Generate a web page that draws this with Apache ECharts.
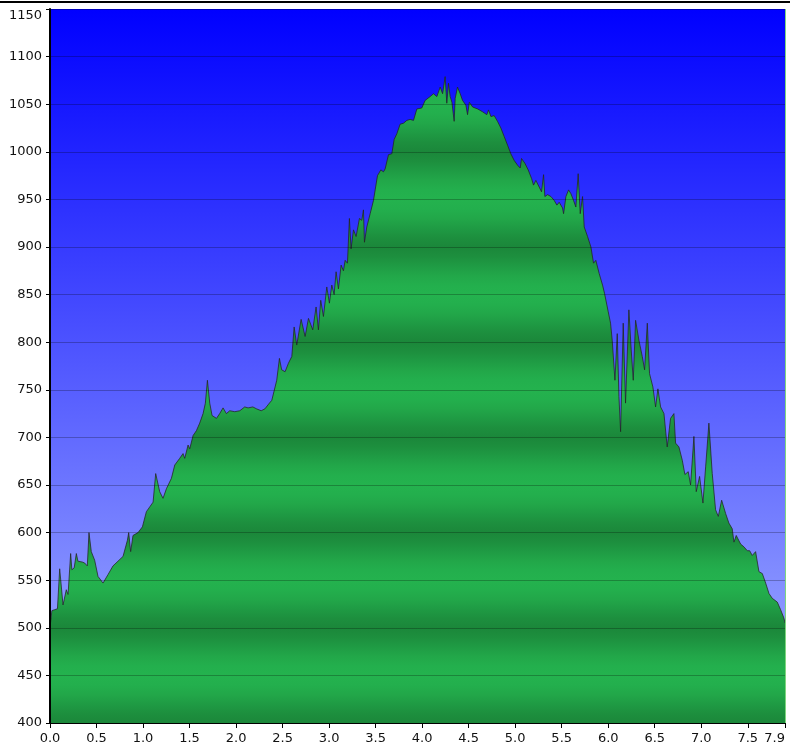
<!DOCTYPE html>
<html>
<head>
<meta charset="utf-8">
<script src="https://cdn.jsdelivr.net/npm/echarts@6/dist/echarts.min.js"></script>
<style>html,body{margin:0;padding:0;background:#fff;}#c{width:790px;height:750px;}</style>
</head>
<body>
<div id="c"></div>
<script>
var dist = [0.00,0.02,0.05,0.08,0.104,0.14,0.175,0.194,0.222,0.235,0.26,0.283,0.30,0.319,0.35,0.373,0.401,0.419,0.444,0.48,0.516,0.57,0.624,0.677,0.731,0.785,0.832,0.846,0.867,0.892,0.946,0.993,1.036,1.072,1.108,1.136,1.179,1.215,1.251,1.305,1.341,1.394,1.43,1.448,1.484,1.502,1.538,1.573,1.609,1.645,1.67,1.692,1.717,1.742,1.789,1.824,1.86,1.896,1.932,1.986,2.04,2.093,2.129,2.18,2.22,2.27,2.31,2.35,2.384,2.437,2.466,2.49,2.527,2.563,2.599,2.624,2.652,2.699,2.742,2.778,2.824,2.86,2.885,2.91,2.939,2.975,3.003,3.029,3.054,3.075,3.1,3.129,3.154,3.172,3.197,3.218,3.236,3.262,3.29,3.326,3.351,3.369,3.38,3.405,3.441,3.477,3.495,3.52,3.556,3.584,3.602,3.638,3.674,3.699,3.728,3.763,3.799,3.835,3.871,3.907,3.943,3.996,4.032,4.086,4.122,4.158,4.194,4.22,4.247,4.265,4.283,4.301,4.32,4.344,4.355,4.38,4.409,4.434,4.47,4.488,4.507,4.543,4.597,4.65,4.695,4.713,4.739,4.774,4.81,4.846,4.882,4.918,4.953,4.989,5.025,5.054,5.068,5.104,5.14,5.176,5.197,5.222,5.258,5.283,5.305,5.319,5.348,5.384,5.419,5.448,5.473,5.509,5.52,5.545,5.574,5.599,5.627,5.652,5.677,5.699,5.724,5.742,5.778,5.814,5.842,5.867,5.903,5.939,5.961,6.0,6.025,6.043,6.072,6.097,6.115,6.133,6.161,6.186,6.222,6.247,6.269,6.294,6.33,6.366,6.391,6.42,6.444,6.48,6.509,6.534,6.563,6.599,6.634,6.67,6.706,6.724,6.76,6.796,6.824,6.86,6.885,6.921,6.946,6.982,7.018,7.047,7.082,7.118,7.154,7.183,7.219,7.262,7.297,7.333,7.351,7.376,7.423,7.459,7.495,7.52,7.548,7.584,7.62,7.656,7.692,7.728,7.763,7.817,7.853,7.889,7.9];
var elev = [500,518,519,520,562,524,540,535,578,561,563,578,570,568,569,568,565,600,580,571,554,547,556,565,570,575,592,600,580,597,600,606,622,627,632,662,643,636,646,657,671,678,683,678,692,688,702,707,715,725,736,760,736,723,720,725,731,725,728,727,728,732,731,732,730,728,730,735,739,760,783,771,769,778,785,816,797,824,806,825,813,837,813,844,827,858,841,860,850,874,856,881,875,886,883,930,898,918,911,930,928,939,905,921,935,949,960,975,981,979,982,997,998,1013,1019,1029,1030,1033,1034,1033,1045,1046,1054,1058,1061,1058,1068,1061,1079,1051,1072,1058,1052,1032,1056,1068,1061,1054,1049,1039,1052,1047,1045,1042,1039,1044,1037,1038,1032,1025,1016,1007,998,991,986,983,993,988,981,972,965,970,963,958,976,953,955,953,949,944,947,941,935,953,960,956,949,942,977,935,953,921,911,900,883,886,872,860,851,832,820,802,760,809,743,706,820,736,834,792,760,823,802,785,771,820,767,753,732,751,732,725,690,720,725,694,690,676,661,664,650,701,643,659,631,669,715,662,624,617,634,620,610,604,590,597,588,585,581,581,576,580,559,557,547,536,531,527,519,510,505];
var yMin = 400, yMax = 1150, yStep = 50;
var xMin = 0, xMax = 7.9, xStep = 0.5;

var points = dist.map(function (d, i) { return [d, elev[i]]; });

var chart = echarts.init(document.getElementById('c'), null, {renderer: 'canvas'});
var G = {left: 50, top: 9, right: 5, bottom: 27};
var plotTop = G.top, plotBottom = 750 - G.bottom;

function mix(a, b, t) {
  var pa = [parseInt(a.substr(1,2),16), parseInt(a.substr(3,2),16), parseInt(a.substr(5,2),16)];
  var pb = [parseInt(b.substr(1,2),16), parseInt(b.substr(3,2),16), parseInt(b.substr(5,2),16)];
  return 'rgb(' + pa.map(function (v, k) { return Math.round(v + (pb[k] - v) * t); }).join(',') + ')';
}
var dark = '#1b873a', bright = '#24b24e';
var stops = [];
for (var v = yMin; v <= yMax + 0.01; v += 10) {
  var t = (1 - Math.cos(2 * Math.PI * (v - yMin) / 100)) / 2;
  t = Math.pow(t, 0.7);
  stops.push({offset: (yMax - v) / (yMax - yMin), color: mix(dark, bright, t)});
}
stops.sort(function (a, b) { return a.offset - b.offset; });
var areaGrad = new echarts.graphic.LinearGradient(0, plotTop, 0, plotBottom, stops, true);
var bgGrad = new echarts.graphic.LinearGradient(0, 0, 0, 1, [
  {offset: 0, color: '#0000ff'},
  {offset: 1, color: '#a3b1ff'}
]);

var font = 'DejaVu Sans';
chart.setOption({
  animation: false,
  grid: {left: G.left, top: G.top, right: G.right, bottom: G.bottom, show: true,
         backgroundColor: bgGrad, borderWidth: 0, containLabel: false},
  xAxis: {
    type: 'value', min: xMin, max: xMax, interval: xStep,
    axisLine: {show: true, onZero: false, lineStyle: {color: '#000', width: 2}},
    axisTick: {show: true, length: 5, lineStyle: {color: '#000', width: 1}},
    splitLine: {show: false},
    axisLabel: {fontFamily: font, fontSize: 13, color: '#111', margin: 9,
                alignMaxLabel: 'right',
                formatter: function (v) { return v.toFixed(1); }}
  },
  yAxis: {
    type: 'value', min: yMin, max: yMax, interval: yStep, z: 5,
    axisLine: {show: true, lineStyle: {color: '#000', width: 2}},
    axisTick: {show: true, length: 4, lineStyle: {color: '#000', width: 1}},
    splitLine: {show: true, lineStyle: {color: 'rgba(0,0,0,0.25)', width: 1}},
    axisLabel: {fontFamily: font, fontSize: 13, color: '#111', margin: 8,
                verticalAlignMaxLabel: 'top',
                formatter: function (v) { return String(Math.round(v)); }}
  },
  series: [{
    type: 'line', data: points, symbol: 'none', smooth: false,
    lineStyle: {color: 'rgba(35,35,35,0.75)', width: 1},
    areaStyle: {color: areaGrad, opacity: 1, origin: 'start'}
  }],
  graphic: [
    {type: 'rect', shape: {x: 0, y: 1, width: 790, height: 2}, style: {fill: '#000'}, z: 100},
    {type: 'line', shape: {x1: 785.5, y1: 9, x2: 785.5, y2: 723}, style: {stroke: '#7fd67f', lineWidth: 1}, z: 100}
  ]
});
</script>
</body>
</html>
